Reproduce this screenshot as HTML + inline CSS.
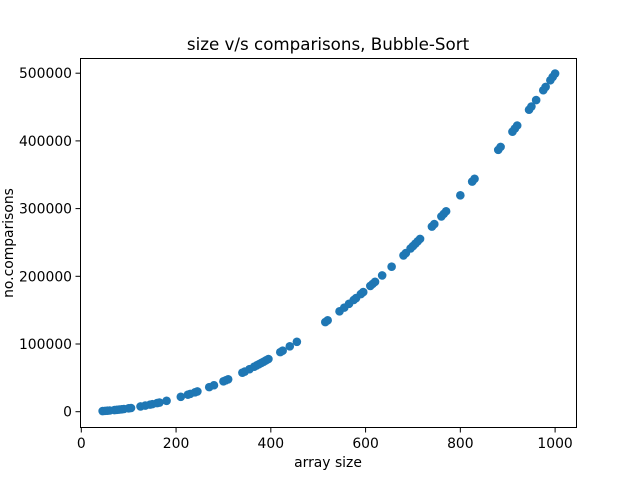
<!DOCTYPE html>
<html><head><meta charset="utf-8"><style>
body{margin:0;background:#fff}
svg{font-family:"DejaVu Sans","Liberation Sans",sans-serif}
</style></head><body>
<svg id="chart" width="640" height="480" xmlns="http://www.w3.org/2000/svg">
<rect width="640" height="480" fill="#fff"/>
<text x="328" y="50" font-size="16.7" text-anchor="middle">size v/s comparisons, Bubble-Sort</text>
<g id="points"></g>
<rect x="80.5" y="58.5" width="496" height="369" fill="none" stroke="#000" stroke-width="1"/>
<g id="xticks"></g>
<g id="yticks"></g>
<text x="328" y="467" font-size="13.9" text-anchor="middle">array size</text>
<text transform="translate(9,243) rotate(-90)" font-size="13.9" text-anchor="middle" dominant-baseline="central">no.comparisons</text>
</svg>
<script>
const sizes=[45,50,55,60,70,75,80,85,90,100,105,125,135,145,150,160,165,180,210,225,230,240,245,270,280,300,305,310,340,345,355,365,370,375,380,385,390,395,420,425,440,455,515,520,545,555,565,575,580,590,595,610,615,620,635,655,680,685,695,700,705,710,715,740,745,760,765,770,800,825,830,880,885,910,915,920,945,950,960,975,980,990,995,1000];
const comparisons=[990,1225,1485,1770,2415,2775,3160,3570,4005,4950,5460,7750,9045,10440,11175,12720,13530,16110,21945,25200,26335,28680,29890,36315,39060,44850,46360,47895,57630,59340,62835,66430,68265,70125,72010,73920,75855,77815,87990,90100,96580,103285,132355,134940,148240,153735,159330,165025,167910,173755,176715,185745,188805,191890,201295,214185,230860,234270,241165,244650,248160,251695,255255,273430,277140,288420,292230,296065,319600,339900,344035,386760,391170,413595,418155,422740,446040,450775,460320,474825,479710,489555,494515,499500];
const xTicks=[0,200,400,600,800,1000];
const yTicks=[0,100000,200000,300000,400000,500000];
const NS="http://www.w3.org/2000/svg";
function sx(v){return 81.3+v*0.4738;}
function sy(v){return 411.7-v*0.000677;}
const pg=document.getElementById('points');
sizes.forEach((s,i)=>{
  const c=document.createElementNS(NS,'circle');
  c.setAttribute('cx',sx(s));c.setAttribute('cy',sy(comparisons[i]));
  c.setAttribute('r',4.3);c.setAttribute('fill','#1f77b4');
  
  
  pg.appendChild(c);
});
const xg=document.getElementById('xticks');
xTicks.forEach(t=>{
  const x=sx(t);
  const l=document.createElementNS(NS,'line');
  l.setAttribute('x1',x);l.setAttribute('x2',x);l.setAttribute('y1',427.5);l.setAttribute('y2',432.5);l.setAttribute('stroke','#000');
  
  
  xg.appendChild(l);
  const tx=document.createElementNS(NS,'text');
  tx.setAttribute('x',x);tx.setAttribute('y',448);tx.setAttribute('font-size','13.9');tx.setAttribute('text-anchor','middle');
  tx.textContent=t;
  
  
  xg.appendChild(tx);
});
const yg=document.getElementById('yticks');
yTicks.forEach(t=>{
  const y=sy(t);
  const l=document.createElementNS(NS,'line');
  l.setAttribute('x1',75.5);l.setAttribute('x2',80.5);l.setAttribute('y1',y);l.setAttribute('y2',y);l.setAttribute('stroke','#000');
  
  
  yg.appendChild(l);
  const tx=document.createElementNS(NS,'text');
  tx.setAttribute('x',72);tx.setAttribute('y',y+5);tx.setAttribute('font-size','13.9');tx.setAttribute('text-anchor','end');
  tx.textContent=t;
  
  
  yg.appendChild(tx);
});
</script>
</body></html>
